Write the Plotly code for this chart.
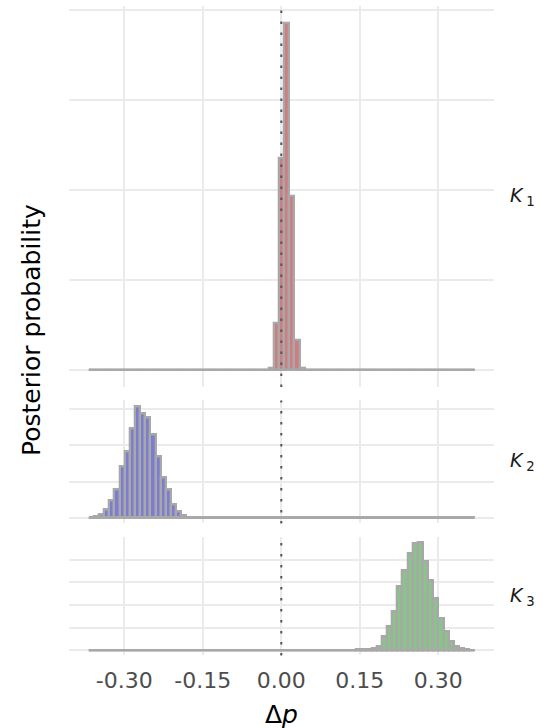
import plotly.graph_objects as go

# ---- histogram bin grid (shared by the three facets) ----
BIN_START = -0.3631     # centre of first bin
BIN_WIDTH = 0.00983
N_BINS = 75
bin_centers = [round(BIN_START + BIN_WIDTH * i, 5) for i in range(N_BINS)]

# ---- posterior probabilities per bin ----
k1_prob = [
    0, 0, 0, 0, 0, 0, 0, 0, 0, 0,
    0, 0, 0, 0, 0, 0, 0, 0, 0, 0,
    0, 0, 0, 0, 0, 0, 0, 0, 0, 0,
    0, 0, 0, 0, 0, 0.002, 0.052, 0.235, 0.385, 0.193,
    0.033, 0.002, 0, 0, 0, 0, 0, 0, 0, 0,
    0, 0, 0, 0, 0, 0, 0, 0, 0, 0,
    0, 0, 0, 0, 0, 0, 0, 0, 0, 0,
    0, 0, 0, 0, 0,
]
k2_prob = [
    0.001, 0.002, 0.0037, 0.0089, 0.019, 0.031, 0.057, 0.074, 0.0985, 0.1237,
    0.116, 0.111, 0.092, 0.068, 0.045, 0.031, 0.0144, 0.007, 0.0026, 0.001,
    0.0005, 0, 0, 0, 0, 0, 0, 0, 0, 0,
    0, 0, 0, 0, 0, 0, 0, 0, 0, 0,
    0, 0, 0, 0, 0, 0, 0, 0, 0, 0,
    0, 0, 0, 0, 0, 0, 0, 0, 0, 0,
    0, 0, 0, 0, 0, 0, 0, 0, 0, 0,
    0, 0, 0, 0, 0,
]
k3_prob = [
    0, 0, 0, 0, 0, 0, 0, 0, 0, 0,
    0, 0, 0, 0, 0, 0, 0, 0, 0, 0,
    0, 0, 0, 0, 0, 0, 0, 0, 0, 0,
    0, 0, 0, 0, 0, 0, 0, 0, 0, 0,
    0, 0, 0, 0, 0, 0, 0, 0, 0, 0,
    0, 0, 0.0003, 0.0005, 0.001, 0.0015, 0.004, 0.0148, 0.026, 0.0426,
    0.0704, 0.0889, 0.1074, 0.1178, 0.119, 0.0981, 0.0778, 0.0574, 0.0352, 0.0204,
    0.0093, 0.0037, 0.0015, 0.0005, 0,
]

facet_labels = ["<i>K</i>\u2009<sub>1</sub>", "<i>K</i>\u2009<sub>2</sub>", "<i>K</i>\u2009<sub>3</sub>"]
facet_fills = ["#CF7D81", "#7C7CD0", "#88C688"]
series = [k1_prob, k2_prob, k3_prob]

x_tick_vals = [-0.30, -0.15, 0.00, 0.15, 0.30]
x_tick_text = ["-0.30", "-0.15", "0.00", "0.15", "0.30"]
y_breaks = [
    [0, 0.1, 0.2, 0.3, 0.4],
    [0, 0.04, 0.08, 0.12],
    [0, 0.025, 0.05, 0.075, 0.1],
]

# ---- layout geometry ----
W, H = 544, 728
X_DOMAIN = [69 / W, 494 / W]
X_RANGE = [-0.4057, 0.4065]
panel_px = [(6, 387), (400.4, 523.4), (537.4, 655.4)]   # top/bottom pixel rows
y_domains = [[1 - b / H, 1 - t / H] for t, b in panel_px]

OUTLINE = "#A8A8A8"
GRID = "#EBEBEB"
FONT = "DejaVu Sans"

fig = go.Figure()
edge_lo = bin_centers[0] - BIN_WIDTH / 2
edge_hi = bin_centers[-1] + BIN_WIDTH / 2

for i, (vals, fill) in enumerate(zip(series, facet_fills)):
    sfx = "" if i == 0 else str(i + 1)
    xa, ya = "x" + sfx, "y" + sfx
    fig.add_trace(go.Bar(
        x=bin_centers, y=vals, width=BIN_WIDTH,
        marker=dict(color=fill, line=dict(color=OUTLINE, width=2.3)),
        xaxis=xa, yaxis=ya, showlegend=False, hoverinfo="skip",
    ))
    # zero-height bins show as a flat outline along the baseline
    fig.add_trace(go.Scatter(
        x=[edge_lo, edge_hi], y=[0, 0], mode="lines",
        line=dict(color=OUTLINE, width=2.3),
        xaxis=xa, yaxis=ya, showlegend=False, hoverinfo="skip",
    ))
    ymax = max(vals)
    pad = ymax * 0.05
    fig.layout["xaxis" + sfx] = dict(
        domain=X_DOMAIN, range=X_RANGE, anchor=ya,
        tickvals=x_tick_vals, ticktext=x_tick_text,
        showticklabels=(i == 2), showgrid=True, gridcolor=GRID, gridwidth=1.8,
        zeroline=False, showline=False, ticks="",
        ticklabelstandoff=10,
        tickfont=dict(family=FONT, size=22, color="#4D4D4D"),
    )
    fig.layout["yaxis" + sfx] = dict(
        domain=y_domains[i], range=[-pad, ymax + pad], anchor=xa,
        tickvals=y_breaks[i], showticklabels=False,
        showgrid=True, gridcolor=GRID, gridwidth=1.8,
        zeroline=False, showline=False,
    )
    # dotted reference line at 0
    fig.add_shape(type="line", xref=xa, yref=ya + " domain",
                  x0=0, x1=0, y0=0, y1=1, layer="above",
                  line=dict(color="#555555", width=2, dash="2.5px,8.5px"))
    # facet strip label
    fig.add_annotation(text=facet_labels[i], xref="paper", yref="paper",
                       x=508 / W, y=sum(y_domains[i]) / 2, xanchor="left",
                       yanchor="middle", showarrow=False,
                       font=dict(family=FONT, size=19, color="#1A1A1A"))

fig.add_annotation(text="Posterior probability", xref="paper", yref="paper",
                   x=32 / W, y=1 - 330 / H, textangle=-90, showarrow=False,
                   xanchor="center", yanchor="middle",
                   font=dict(family=FONT, size=25, color="black"))
fig.add_annotation(text="Δ<i>p</i>", xref="paper", yref="paper",
                   x=281.5 / W, y=1 - 714 / H, showarrow=False,
                   xanchor="center", yanchor="middle",
                   font=dict(family=FONT, size=25, color="black"))

fig.update_layout(
    width=W, height=H, autosize=False,
    margin=dict(l=0, r=0, t=0, b=0),
    paper_bgcolor="white", plot_bgcolor="white",
    bargap=0, barmode="overlay",
    font=dict(family=FONT),
)

fig.write_html("out.html", config={"displayModeBar": False},
               post_script="document.body.style.margin='0';document.body.style.overflow='hidden';")
